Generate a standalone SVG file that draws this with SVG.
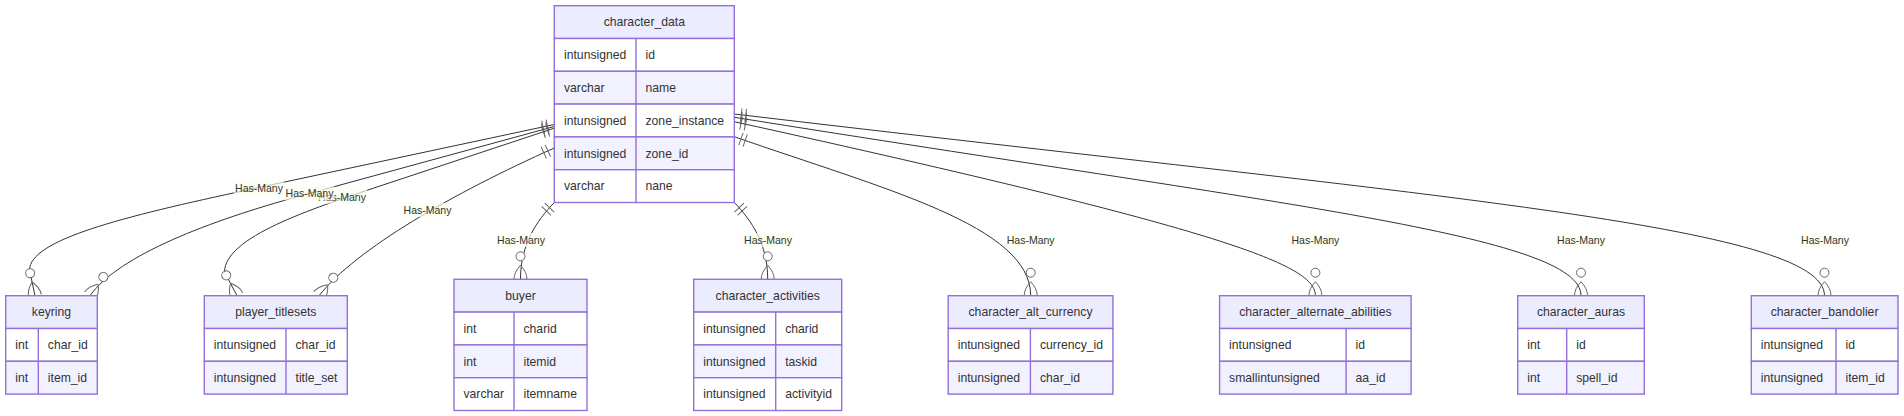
<svg xmlns="http://www.w3.org/2000/svg" width="1904" height="416" viewBox="0 0 1904 416">
<style>
.hdr{fill:#ECECFF;stroke:#9370DB;stroke-width:1.4}
.odd{fill:#FFFFFF;stroke:#9370DB;stroke-width:1.4}
.even{fill:#F1F1FF;stroke:#9370DB;stroke-width:1.4}
.dv{stroke:#9370DB;stroke-width:1.4}
.t{font-family:"Liberation Sans",Arial,sans-serif;font-size:12.2px;fill:#333}
.th{text-anchor:middle}
.edge{fill:none;stroke:#333;stroke-width:1;marker-start:url(#one);marker-end:url(#many)}
.lbg{fill:#F9FFEC;opacity:0.7}
.lbl{font-family:"Liberation Sans",Arial,sans-serif;font-size:10.5px;fill:#333;text-anchor:middle}
.mk{fill:none;stroke:#666;stroke-width:1}
</style>
<defs>
<marker id="one" markerUnits="userSpaceOnUse" markerWidth="20" markerHeight="20" refX="0" refY="10" orient="auto" overflow="visible">
<path class="mk" d="M7,3.5 L7,16.5 M11.5,3.5 L11.5,16.5"/>
</marker>
<marker id="many" markerUnits="userSpaceOnUse" markerWidth="30" markerHeight="20" refX="28" refY="10" orient="auto" overflow="visible">
<path class="mk" d="M14,10 Q21,3.5 28,3.5 M14,10 Q21,16.5 28,16.5"/>
<circle cx="5" cy="10" r="4.5" fill="#fff" stroke="#666" stroke-width="1"/>
</marker>
</defs>
<rect width="1904" height="416" fill="#fff"/>

<g id="connectors">
<path class="edge" d="M554.3,124.5 L250,189.4 C120,217.2 30,240 29.5,270 L35,295.7"/>
<path class="edge" d="M554.3,126.5 L300,196 C210,220.7 119,255.1 90,295.7"/>
<path class="edge" d="M554.3,128.2 L380,186 C310,209.3 225,237 224.5,272 L237,295.7"/>
<path class="edge" d="M554.3,148 C453.5,193 356.2,248.8 319,295.7"/>
<path class="edge" d="M554.3,202.5 C536.8,220.7 520.5,244.3 520.5,279.3"/>
<path class="edge" d="M734.3,202.5 C751.8,220.7 767.7,244.3 767.7,279.3"/>
<path class="edge" d="M734.3,136.7 C884.3,189.2 1030.7,225.7 1030.7,295.7"/>
<path class="edge" d="M734.3,121.7 C1234.3,231.7 1315.4,265.7 1315.4,295.7"/>
<path class="edge" d="M734.3,117.3 C1285,205.3 1581,235.7 1581,295.7"/>
<path class="edge" d="M734.3,114 C1435,197 1824.5,225.7 1824.5,295.7"/>
<g id="edge-labels">
<rect class="lbg" x="234" y="181" width="50" height="14"/><text class="lbl" x="259" y="192">Has-Many</text>
<rect class="lbg" x="317" y="189.7" width="50" height="14"/><text class="lbl" x="342" y="200.7">Has-Many</text>
<rect class="lbg" x="284.5" y="186.3" width="50" height="14"/><text class="lbl" x="309.5" y="197.3">Has-Many</text>
<rect class="lbg" x="402.5" y="203" width="50" height="14"/><text class="lbl" x="427.5" y="214">Has-Many</text>
<rect class="lbg" x="496" y="233" width="50" height="14"/><text class="lbl" x="521" y="244">Has-Many</text>
<rect class="lbg" x="743" y="233" width="50" height="14"/><text class="lbl" x="768" y="244">Has-Many</text>
<rect class="lbg" x="1005.7" y="233" width="50" height="14"/><text class="lbl" x="1030.7" y="244">Has-Many</text>
<rect class="lbg" x="1290.4" y="233" width="50" height="14"/><text class="lbl" x="1315.4" y="244">Has-Many</text>
<rect class="lbg" x="1556" y="233" width="50" height="14"/><text class="lbl" x="1581" y="244">Has-Many</text>
<rect class="lbg" x="1800" y="233" width="50" height="14"/><text class="lbl" x="1825" y="244">Has-Many</text>
</g>
</g>

<g id="character_data">
<rect class="hdr" x="554.3" y="5.7" width="180" height="32.8"/>
<rect class="odd" x="554.3" y="38.5" width="180" height="32.8"/>
<rect class="even" x="554.3" y="71.3" width="180" height="32.8"/>
<rect class="odd" x="554.3" y="104.1" width="180" height="32.8"/>
<rect class="even" x="554.3" y="136.9" width="180" height="32.8"/>
<rect class="odd" x="554.3" y="169.7" width="180" height="32.8"/>
<line class="dv" x1="636" y1="38.5" x2="636" y2="202.5"/>
<text class="t th" x="644.3" y="26.4">character_data</text>
<text class="t" x="564" y="59.1">intunsigned</text><text class="t" x="645.5" y="59.1">id</text>
<text class="t" x="564" y="91.9">varchar</text><text class="t" x="645.5" y="91.9">name</text>
<text class="t" x="564" y="124.7">intunsigned</text><text class="t" x="645.5" y="124.7">zone_instance</text>
<text class="t" x="564" y="157.5">intunsigned</text><text class="t" x="645.5" y="157.5">zone_id</text>
<text class="t" x="564" y="190.3">varchar</text><text class="t" x="645.5" y="190.3">nane</text>
</g>

<g id="keyring">
<rect class="hdr" x="5.7" y="295.7" width="91.6" height="32.8"/>
<rect class="odd" x="5.7" y="328.5" width="91.6" height="32.8"/>
<rect class="even" x="5.7" y="361.3" width="91.6" height="32.8"/>
<line class="dv" x1="38.3" y1="328.5" x2="38.3" y2="394.1"/>
<text class="t th" x="51.5" y="316.4">keyring</text>
<text class="t" x="15.2" y="349.1">int</text><text class="t" x="47.8" y="349.1">char_id</text>
<text class="t" x="15.2" y="381.9">int</text><text class="t" x="47.8" y="381.9">item_id</text>
</g>

<g id="player_titlesets">
<rect class="hdr" x="204.3" y="295.7" width="143" height="32.8"/>
<rect class="odd" x="204.3" y="328.5" width="143" height="32.8"/>
<rect class="even" x="204.3" y="361.3" width="143" height="32.8"/>
<line class="dv" x1="286" y1="328.5" x2="286" y2="394.1"/>
<text class="t th" x="275.8" y="316.4">player_titlesets</text>
<text class="t" x="213.8" y="349.1">intunsigned</text><text class="t" x="295.5" y="349.1">char_id</text>
<text class="t" x="213.8" y="381.9">intunsigned</text><text class="t" x="295.5" y="381.9">title_set</text>
</g>

<g id="buyer">
<rect class="hdr" x="454" y="279.3" width="133" height="32.8"/>
<rect class="odd" x="454" y="312.1" width="133" height="32.8"/>
<rect class="even" x="454" y="344.9" width="133" height="32.8"/>
<rect class="odd" x="454" y="377.7" width="133" height="32.8"/>
<line class="dv" x1="514" y1="312.1" x2="514" y2="410.5"/>
<text class="t th" x="520.5" y="300">buyer</text>
<text class="t" x="463.5" y="332.7">int</text><text class="t" x="523.5" y="332.7">charid</text>
<text class="t" x="463.5" y="365.5">int</text><text class="t" x="523.5" y="365.5">itemid</text>
<text class="t" x="463.5" y="398.3">varchar</text><text class="t" x="523.5" y="398.3">itemname</text>
</g>

<g id="character_activities">
<rect class="hdr" x="693.7" y="279.3" width="148" height="32.8"/>
<rect class="odd" x="693.7" y="312.1" width="148" height="32.8"/>
<rect class="even" x="693.7" y="344.9" width="148" height="32.8"/>
<rect class="odd" x="693.7" y="377.7" width="148" height="32.8"/>
<line class="dv" x1="775.7" y1="312.1" x2="775.7" y2="410.5"/>
<text class="t th" x="767.7" y="300">character_activities</text>
<text class="t" x="703.2" y="332.7">intunsigned</text><text class="t" x="785.2" y="332.7">charid</text>
<text class="t" x="703.2" y="365.5">intunsigned</text><text class="t" x="785.2" y="365.5">taskid</text>
<text class="t" x="703.2" y="398.3">intunsigned</text><text class="t" x="785.2" y="398.3">activityid</text>
</g>

<g id="character_alt_currency">
<rect class="hdr" x="948.2" y="295.7" width="164.7" height="32.8"/>
<rect class="odd" x="948.2" y="328.5" width="164.7" height="32.8"/>
<rect class="even" x="948.2" y="361.3" width="164.7" height="32.8"/>
<line class="dv" x1="1030.4" y1="328.5" x2="1030.4" y2="394.1"/>
<text class="t th" x="1030.5" y="316.4">character_alt_currency</text>
<text class="t" x="957.7" y="349.1">intunsigned</text><text class="t" x="1040" y="349.1">currency_id</text>
<text class="t" x="957.7" y="381.9">intunsigned</text><text class="t" x="1040" y="381.9">char_id</text>
</g>

<g id="character_alternate_abilities">
<rect class="hdr" x="1219.6" y="295.7" width="191.5" height="32.8"/>
<rect class="odd" x="1219.6" y="328.5" width="191.5" height="32.8"/>
<rect class="even" x="1219.6" y="361.3" width="191.5" height="32.8"/>
<line class="dv" x1="1346.1" y1="328.5" x2="1346.1" y2="394.1"/>
<text class="t th" x="1315.4" y="316.4">character_alternate_abilities</text>
<text class="t" x="1229.1" y="349.1">intunsigned</text><text class="t" x="1355.6" y="349.1">id</text>
<text class="t" x="1229.1" y="381.9">smallintunsigned</text><text class="t" x="1355.6" y="381.9">aa_id</text>
</g>

<g id="character_auras">
<rect class="hdr" x="1517.7" y="295.7" width="126.6" height="32.8"/>
<rect class="odd" x="1517.7" y="328.5" width="126.6" height="32.8"/>
<rect class="even" x="1517.7" y="361.3" width="126.6" height="32.8"/>
<line class="dv" x1="1566.7" y1="328.5" x2="1566.7" y2="394.1"/>
<text class="t th" x="1581" y="316.4">character_auras</text>
<text class="t" x="1527.2" y="349.1">int</text><text class="t" x="1576.2" y="349.1">id</text>
<text class="t" x="1527.2" y="381.9">int</text><text class="t" x="1576.2" y="381.9">spell_id</text>
</g>

<g id="character_bandolier">
<rect class="hdr" x="1751.3" y="295.7" width="146.7" height="32.8"/>
<rect class="odd" x="1751.3" y="328.5" width="146.7" height="32.8"/>
<rect class="even" x="1751.3" y="361.3" width="146.7" height="32.8"/>
<line class="dv" x1="1836" y1="328.5" x2="1836" y2="394.1"/>
<text class="t th" x="1824.6" y="316.4">character_bandolier</text>
<text class="t" x="1760.8" y="349.1">intunsigned</text><text class="t" x="1845.5" y="349.1">id</text>
<text class="t" x="1760.8" y="381.9">intunsigned</text><text class="t" x="1845.5" y="381.9">item_id</text>
</g>
</svg>
